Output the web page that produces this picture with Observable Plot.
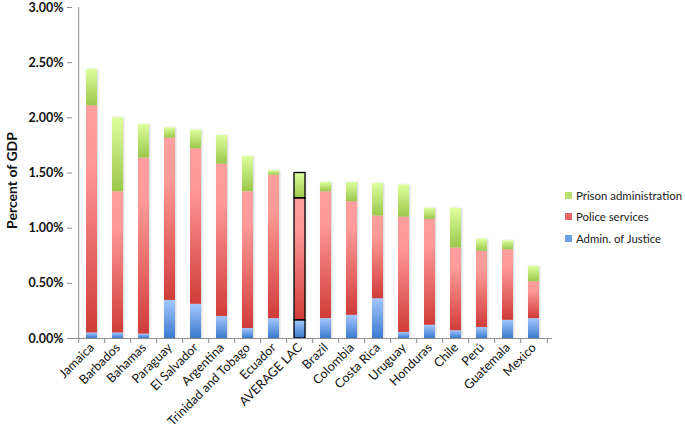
<!DOCTYPE html>
<html>
<head>
<meta charset="utf-8">
<script src="https://cdn.jsdelivr.net/npm/d3@7"></script>
<script src="https://cdn.jsdelivr.net/npm/@observablehq/plot@0.6"></script>
<style>
  html, body { margin: 0; padding: 0; background: #fff; }
  #wrap { position: relative; width: 685px; height: 427px; font-family: Lato, "Open Sans", sans-serif; }
  #chart svg { display: block; }
  #legend { position: absolute; left: 565px; top: 185px; font-size: 11.4px; color: #222; }
  #legend .row { display: flex; align-items: center; height: 21.3px; white-space: nowrap; }
  #legend .sw { width: 7px; height: 7px; margin-right: 4px; }
  #ylabel { position: absolute; left: -49px; top: 172px; width: 120px; text-align: center; transform: rotate(-90deg); font-weight: bold; font-size: 14px; color: #111; white-space: nowrap; }
</style>
</head>
<body>
<div id="wrap">
  <div id="chart"></div>
  <div id="ylabel">Percent of GDP</div>
  <div id="legend"></div>
</div>
<script>
const countries = ["Jamaica","Barbados","Bahamas","Paraguay","El Salvador","Argentina","Trinidad and Tobago","Ecuador","AVERAGE LAC","Brazil","Colombia","Costa Rica","Uruguay","Honduras","Chile","Perú","Guatemala","Mexico"];
const seriesNames = ["Admin. of Justice","Police services","Prison administration"];
// values in percent of GDP
const adminJustice = [0.05,0.05,0.04,0.345,0.31,0.20,0.09,0.18,0.165,0.18,0.21,0.36,0.055,0.12,0.07,0.10,0.165,0.18];
const police       = [2.06,1.28,1.595,1.47,1.41,1.38,1.24,1.30,1.105,1.15,1.03,0.75,1.045,0.96,0.75,0.69,0.64,0.335];
const prison       = [0.33,0.67,0.305,0.095,0.17,0.26,0.32,0.04,0.23,0.085,0.175,0.295,0.29,0.10,0.36,0.11,0.08,0.14];
const yTicks = [0,0.5,1,1.5,2,2.5,3];
const highlight = "AVERAGE LAC";

const gradIds = ["gBlue","gRed","gGreen"];
const seriesValues = [adminJustice, police, prison];
const data = [];
countries.forEach((c, i) => {
  seriesNames.forEach((s, k) => data.push({country: c, series: s, value: seriesValues[k][i]}));
});

const W = 685, H = 427;
const marginLeft = 72, marginRight = 133;
const halfStep = (W - marginLeft - marginRight) / countries.length / 2;

const chart = Plot.plot({
  width: W,
  height: H,
  marginLeft,
  marginRight,
  marginTop: 7,
  marginBottom: 89,
  style: {fontFamily: "Lato, 'Open Sans', sans-serif", background: "white", overflow: "visible"},
  x: {domain: countries, paddingInner: 0.59, paddingOuter: 0.295, label: null},
  y: {domain: [0, 3], label: null},
  color: {domain: seriesNames, range: gradIds.map(g => `url(#${g})`)},
  marks: [
    Plot.barY(data, Plot.stackY({x: "country", y: "value", fill: "series", filter: null})),
    Plot.barY(data.filter(d => d.country === highlight), Plot.stackY({x: "country", y: "value", fill: "none", stroke: "#000", strokeWidth: 1.3})),
    Plot.ruleY([0], {stroke: "#8c8c8c", strokeWidth: 1}),
    Plot.ruleX(countries, {x: d => d, y1: 0, y2: 0, insetBottom: -5, dx: -halfStep, stroke: "#8c8c8c"}),
    Plot.ruleX(countries.slice(-1), {x: d => d, y1: 0, y2: 0, insetBottom: -5, dx: halfStep, stroke: "#8c8c8c"}),
    Plot.axisY({ticks: yTicks, tickFormat: d => d.toFixed(2) + "%", tickSize: 5, tickPadding: 4, fontSize: 12.5, fontWeight: "bold", stroke: "#8c8c8c", fill: "#111", label: null}),
    Plot.ruleX([countries[0]], {x: d => d, y1: 0, y2: 3, dx: -halfStep, stroke: "#8c8c8c"}),
    Plot.axisX({tickSize: 0, tickRotate: -45, tickPadding: 7, fontSize: 12.6, fill: "#111", label: null})
  ]
});

// gradient definitions and a soft bar shadow
const svg = d3.select(chart);
const defs = svg.insert("defs", ":first-child");
const grads = {
  gBlue: [["0%", "#a3c7ff"], ["100%", "#3b7acd"]],
  gRed: [["0%", "#ff9f9d"], ["25%", "#ff9a98"], ["100%", "#d03c39"]],
  gGreen: [["0%", "#ddff9d"], ["100%", "#9bc84c"]]
};
for (const [id, stops] of Object.entries(grads)) {
  const g = defs.append("linearGradient").attr("id", id).attr("x1", 0).attr("y1", 0).attr("x2", 0).attr("y2", 1);
  stops.forEach(([o, c]) => g.append("stop").attr("offset", o).attr("stop-color", c));
}
const f = defs.append("filter").attr("id", "shadow").attr("x", "-30%").attr("y", "-5%").attr("width", "160%").attr("height", "110%");
f.append("feDropShadow").attr("dx", 1).attr("dy", 0).attr("stdDeviation", 1).attr("flood-color", "#000").attr("flood-opacity", 0.18);
svg.select("g[aria-label='bar']").attr("filter", "url(#shadow)");
document.getElementById("chart").appendChild(chart);

// legend (top to bottom: Prison, Police, Admin)
const legendColors = {"Prison administration": "#b8e070", "Police services": "#e86563", "Admin. of Justice": "#6a9ee6"};
const leg = document.getElementById("legend");
[...seriesNames].reverse().forEach(s => {
  const row = document.createElement("div");
  row.className = "row";
  row.innerHTML = `<span class="sw" style="background:${legendColors[s]}"></span><span>${s}</span>`;
  leg.appendChild(row);
});
</script>
</body>
</html>
